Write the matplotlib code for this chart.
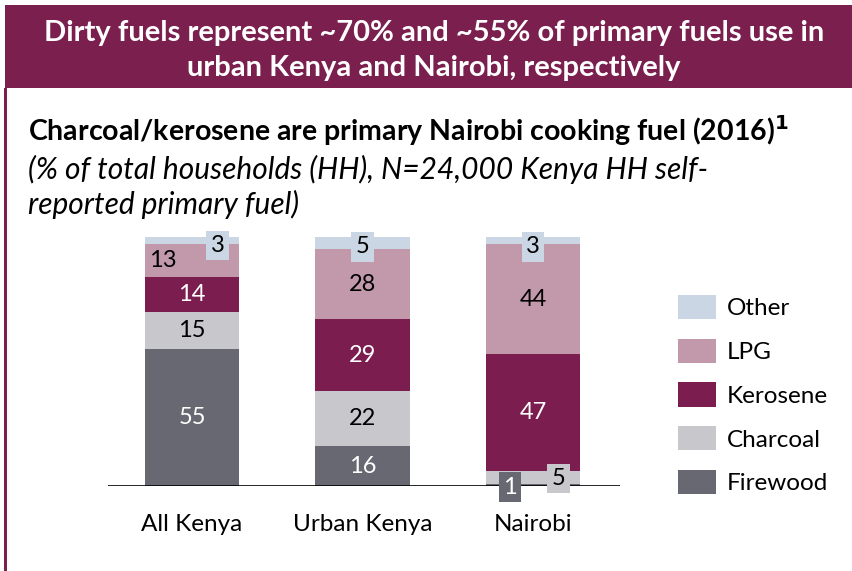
import matplotlib.pyplot as plt
from matplotlib.patches import Rectangle, Patch

plt.rcParams['font.family'] = ['Lato', 'DejaVu Sans']

# data (% of households)
regions = ['All Kenya', 'Urban Kenya', 'Nairobi']
fuels = ['Firewood', 'Charcoal', 'Kerosene', 'LPG', 'Other']
firewood = [55, 16, 1]
charcoal = [15, 22, 5]
kerosene = [14, 29, 47]
lpg = [13, 28, 44]
other = [3, 5, 3]

colors = ['#686872', '#c8c8cc', '#7b1e4f', '#c199aa', '#cad6e3']
text_colors = ['white', 'black', 'white', 'black', 'black']
maroon = '#7a1f4e'

W, H = 853, 571
fig = plt.figure(figsize=(W / 100, H / 100), dpi=100)

def fx(px):
    return px / W

def fy(py):
    return 1 - py / H

# header banner and left frame line
fig.patches.append(Rectangle((fx(5), fy(88)), fx(848), 83 / H, transform=fig.transFigure,
                             facecolor=maroon, edgecolor='none'))
fig.patches.append(Rectangle((fx(4), 0), fx(3), fy(88), transform=fig.transFigure,
                             facecolor=maroon, edgecolor='none'))
fig.text(fx(434), fy(33), 'Dirty fuels represent ~70% and ~55% of primary fuels use in',
         color='white', fontsize=21, fontweight='bold', ha='center', va='center')
fig.text(fx(434), fy(68), 'urban Kenya and Nairobi, respectively',
         color='white', fontsize=21, fontweight='bold', ha='center', va='center')

fig.text(fx(28), fy(131), r'Charcoal/kerosene are primary Nairobi cooking fuel (2016)$^{\mathbf{1}}$',
         fontsize=20.5, fontweight='bold', ha='left', va='center')
fig.text(fx(28), fy(169), '(% of total households (HH), N=24,000 Kenya HH self-',
         fontsize=21.5, fontstyle='italic', ha='left', va='center')
fig.text(fx(28), fy(204), 'reported primary fuel)',
         fontsize=21.5, fontstyle='italic', ha='left', va='center')

# chart axes: baseline at y=486px, 100% at y=237px
ax = fig.add_axes([fx(108), fy(486), fx(620 - 108), 249 / H])
ax.set_xlim(-0.493, 2.51)
ax.set_ylim(0, 100)

series = [firewood, charcoal, kerosene, lpg, other]
x = range(len(regions))
bottom = [0, 0, 0]
for vals, c in zip(series, colors):
    ax.bar(x, vals, width=0.556, bottom=bottom, color=c, edgecolor='none')
    bottom = [b + v for b, v in zip(bottom, vals)]

# labels for the larger segments
bottom = [0, 0, 0]
for k, (vals, tc) in enumerate(zip(series, text_colors)):
    for i, v in enumerate(vals):
        if v >= 10:
            xpos = i
            if k == 3 and i == 0:
                xpos = i - 0.17
            ax.text(xpos, bottom[i] + v / 2, str(v), color=tc, fontsize=17,
                    ha='center', va='center')
    bottom = [b + v for b, v in zip(bottom, vals)]

# boxed labels for the small segments
def boxed(xpos, ypos, val, fc, tc):
    ax.text(xpos, ypos, str(val), color=tc, fontsize=17, ha='center', va='center',
            clip_on=False, zorder=5,
            bbox=dict(boxstyle='square,pad=0.18', facecolor=fc, edgecolor='none'))

boxed(0.15, 100 - 3.5, other[0], colors[4], 'black')
boxed(1, 100 - 4, other[1], colors[4], 'black')
boxed(2, 100 - 4, other[2], colors[4], 'black')
boxed(2 - 0.135, -0.5, firewood[2], colors[0], 'white')
boxed(2 + 0.15, 3, charcoal[2], colors[1], 'black')

ax.axhline(0, color='black', linewidth=1.2, zorder=4)
for s in ax.spines.values():
    s.set_visible(False)
ax.set_yticks([])
ax.set_xticks(list(x))
ax.set_xticklabels(regions, fontsize=17.5)
ax.tick_params(axis='x', length=0, pad=20)

handles = [Patch(facecolor=c, edgecolor='none') for c in colors[::-1]]
fig.legend(handles, fuels[::-1], loc='upper left', bbox_to_anchor=(fx(678), fy(295)),
           frameon=False, fontsize=17.5, handlelength=1.56, handleheight=1.15,
           labelspacing=0.8, handletextpad=0.45, borderpad=0, borderaxespad=0)

fig.savefig('out.png', dpi=100)
